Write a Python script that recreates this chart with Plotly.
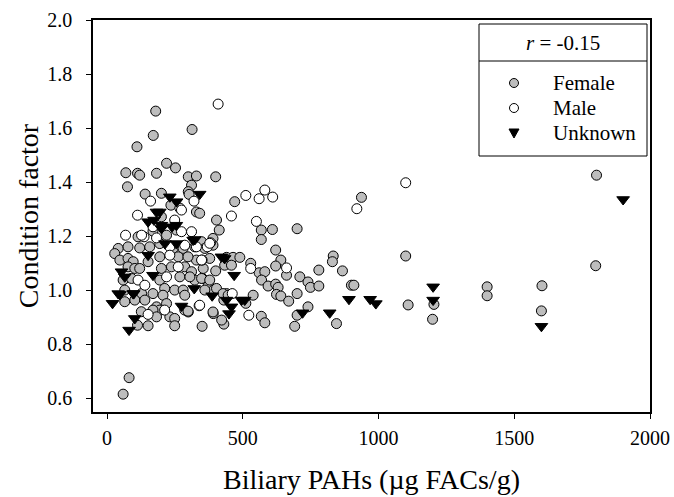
import plotly.graph_objects as go

# Biliary PAHs (µg FACs/g) and condition factor, by sex
female_x = [179, 313, 170, 110, 69, 112, 120, 182, 219, 252, 299, 329, 400, 75, 311, 299, 302,
            140, 200, 470, 235, 329, 341, 200, 403,
            937, 1100, 1109, 1204, 1199, 1400, 1400, 1602, 1600, 1800, 1803,
            568, 609, 568, 700, 413, 621, 640, 621, 661, 529, 560, 581, 569, 593, 621, 630, 624,
            640, 669, 700, 710, 740, 749, 780, 780, 833, 830, 867, 900, 909, 845, 740, 700, 691,
            568, 581, 538, 511, 440, 430, 430, 422, 391, 350, 299, 440, 464, 489, 400, 433, 458,
            373, 391, 351, 323, 329, 403, 427, 446,
            114, 169, 219, 255, 348, 390, 41, 77, 120, 157, 194, 243, 280, 323, 360, 390, 28, 47,
            77, 96, 151, 194, 262, 298, 378, 77, 102, 120, 200, 237, 286, 311, 354, 59, 90, 194,
            268, 305, 348, 378, 65, 127, 169, 212, 206, 249, 280, 286, 360, 65, 102, 139, 219,
            182, 390, 286, 194,
            126, 169, 182, 231, 249, 249, 151, 112, 298, 81, 59]
female_y = [1.663, 1.595, 1.573, 1.531, 1.435, 1.433, 1.426, 1.433, 1.470, 1.453, 1.420, 1.423,
            1.420, 1.383, 1.389, 1.365, 1.355, 1.356, 1.359, 1.328, 1.315, 1.290, 1.285, 1.272,
            1.260,
            1.344, 1.127, 0.946, 0.948, 0.893, 1.013, 0.980, 1.017, 0.924, 1.091, 1.426,
            1.223, 1.225, 1.188, 1.228, 1.223, 1.149, 1.112, 1.090, 1.056, 1.100, 1.065, 1.069,
            1.038, 1.016, 1.023, 1.011, 0.985, 0.979, 0.960, 0.988, 1.050, 1.031, 1.011, 1.075,
            1.016, 1.127, 1.106, 1.072, 1.019, 1.019, 0.877, 0.939, 0.908, 0.867, 0.904, 0.880,
            0.982, 0.952, 0.988, 0.964, 0.875, 0.890, 0.914, 0.867, 0.920, 1.122, 1.122, 1.122,
            1.072, 1.093, 1.093, 1.022, 1.000, 1.044, 1.038, 1.112, 1.007, 0.988, 0.982,
            1.198, 1.219, 1.204, 1.223, 1.180, 1.192, 1.155, 1.161, 1.157, 1.161, 1.173, 1.155,
            1.155, 1.161, 1.155, 1.167, 1.136, 1.112, 1.118, 1.106, 1.106, 1.124, 1.124, 1.124,
            1.118, 1.087, 1.081, 1.081, 1.081, 1.087, 1.087, 1.069, 1.081, 1.038, 1.044, 1.038,
            1.050, 1.050, 1.044, 1.038, 1.001, 0.988, 0.988, 1.007, 0.982, 1.001, 1.001, 0.982,
            1.001, 0.958, 0.964, 0.964, 0.951, 0.939, 0.920, 0.927, 0.927,
            0.921, 0.927, 0.902, 0.902, 0.896, 0.869, 0.869, 0.871, 0.923, 0.677, 0.616]

male_x = [409, 160, 320, 511, 560, 581, 610, 920, 1100, 112, 268, 274, 458, 550, 381, 529, 661,
          522, 461, 339, 350, 369, 329, 151, 68, 136, 182, 274, 311, 378, 231, 286, 231, 348,
          262, 114, 139, 219, 341, 249, 169, 212, 127]
male_y = [1.689, 1.330, 1.330, 1.351, 1.339, 1.371, 1.345, 1.302, 1.398, 1.278, 1.304, 1.297,
          1.275, 1.255, 1.176, 1.081, 1.083, 0.908, 0.988, 0.943, 1.112, 1.161, 1.161, 0.911,
          1.204, 1.198, 1.194, 1.217, 1.217, 1.174, 1.161, 1.167, 1.130, 1.112, 1.087, 1.038,
          1.019, 1.050, 0.945, 1.260, 1.235, 0.927, 1.204]

unknown_x = [231, 256, 341, 194, 182, 151, 173, 200, 255, 1901, 1201, 1201, 1600, 969, 990, 891,
             820, 720, 495, 507, 440, 458, 449, 387, 321, 274, 20, 47, 98, 81, 102, 421, 433,
             468, 323, 200, 239, 317, 151, 213, 255, 53, 169, 41, 96, 65]
unknown_y = [1.346, 1.328, 1.356, 1.290, 1.290, 1.254, 1.260, 1.241, 1.241, 1.336, 1.013, 0.964,
             0.867, 0.967, 0.951, 0.967, 0.917, 0.917, 0.964, 0.964, 0.964, 0.939, 0.914, 0.980,
             1.007, 0.942, 0.952, 0.985, 0.988, 0.853, 0.896, 1.124, 1.118, 1.056, 1.188, 1.229,
             1.235, 1.186, 1.130, 1.173, 1.173, 1.069, 1.056, 0.988, 0.988, 1.050]

x_ticks = [0, 500, 1000, 1500, 2000]
y_ticks = [0.6, 0.8, 1.0, 1.2, 1.4, 1.6, 1.8, 2.0]
groups = ["Female", "Male", "Unknown"]
r_value = -0.15

SERIF = "Liberation Serif, Times New Roman, serif"
FEMALE_FILL = "#bdbdbd"

W, H = 674, 497
ML, MR, MT, MB = 93, 24, 20, 85
PW, PH = W - ML - MR, H - MT - MB


def px2x(px):
    return (px - ML) / PW


def px2y(py):
    return (H - MB - py) / PH


styles = {
    "Female": dict(symbol="circle", size=10, color=FEMALE_FILL, line=dict(color="black", width=1)),
    "Male": dict(symbol="circle", size=10, color="white", line=dict(color="black", width=1)),
    "Unknown": dict(symbol="triangle-down", size=11, color="black", line=dict(color="black", width=1)),
}
series = {"Female": (female_x, female_y), "Male": (male_x, male_y), "Unknown": (unknown_x, unknown_y)}

fig = go.Figure()
for g in groups:
    xs, ys = series[g]
    fig.add_trace(go.Scatter(x=xs, y=ys, mode="markers", name=g, marker=styles[g], showlegend=False))

axis_common = dict(showline=True, linecolor="black", linewidth=1.5, mirror=True,
                   ticks="outside", ticklen=5, tickwidth=1, tickcolor="black",
                   showgrid=False, zeroline=False, automargin=False,
                   tickfont=dict(family=SERIF, size=20, color="black"))

fig.update_xaxes(range=[-52, 2000], tickvals=x_ticks, ticklabelstandoff=2,
                 title=dict(text="Biliary PAHs (µg FACs/g)",
                            font=dict(family=SERIF, size=28, color="black"), standoff=22),
                 **axis_common)
fig.update_yaxes(range=[0.55, 2.0], tickvals=y_ticks, tickformat=".1f", ticklabelstandoff=10,
                 title=dict(text="Condition factor",
                            font=dict(family=SERIF, size=28, color="black"), standoff=0),
                 **axis_common)

# key box: header with the correlation coefficient, then one row per group
box_l, box_r, box_t, box_b, sep_y = 479, 647, 24, 156, 61
fig.add_shape(type="rect", xref="paper", yref="paper",
              x0=px2x(box_l), x1=px2x(box_r), y0=px2y(box_b), y1=px2y(box_t),
              line=dict(color="black", width=1), fillcolor="white", layer="below")
fig.add_shape(type="line", xref="paper", yref="paper",
              x0=px2x(box_l), x1=px2x(box_r), y0=px2y(sep_y), y1=px2y(sep_y),
              line=dict(color="black", width=1))
fig.add_annotation(xref="paper", yref="paper", x=px2x((box_l + box_r) / 2), y=px2y(43),
                   xanchor="center", yanchor="middle", showarrow=False,
                   text=f"<i>r</i> = {r_value:.2f}", font=dict(family=SERIF, size=21, color="black"))

row_y = [83, 108, 133]
key_x, text_x = 514, 551
for g, ry in zip(groups, row_y):
    ax, ay = px2x(key_x), px2y(ry)
    if g == "Unknown":
        fig.add_shape(type="path", xref="paper", yref="paper", xsizemode="pixel", ysizemode="pixel",
                      xanchor=ax, yanchor=ay, path="M-5,4 L5,4 L0,-5 Z",
                      fillcolor="black", line=dict(color="black", width=1))
    else:
        fill = FEMALE_FILL if g == "Female" else "white"
        fig.add_shape(type="circle", xref="paper", yref="paper", xsizemode="pixel", ysizemode="pixel",
                      xanchor=ax, yanchor=ay, x0=-4.5, x1=4.5, y0=-4.5, y1=4.5,
                      fillcolor=fill, line=dict(color="black", width=1))
    fig.add_annotation(xref="paper", yref="paper", x=px2x(text_x), y=ay, xanchor="left",
                       yanchor="middle", showarrow=False, text=g,
                       font=dict(family=SERIF, size=21, color="black"))

fig.update_layout(
    template="none",
    width=W, height=H,
    margin=dict(l=ML, r=MR, t=MT, b=MB, autoexpand=False),
    paper_bgcolor="white", plot_bgcolor="white",
    font=dict(family=SERIF, color="black"),
    showlegend=False,
)

fig.write_html("out.html")
